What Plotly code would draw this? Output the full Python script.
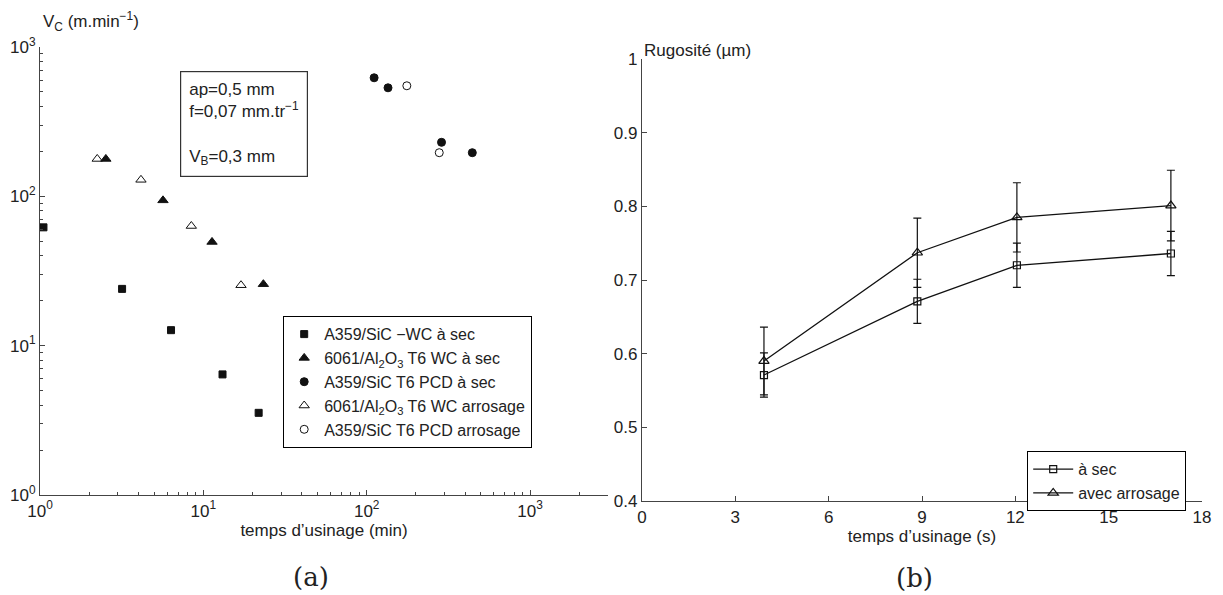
import plotly.graph_objects as go

# ---------- Data (a) ----------
sq_x = [1.05, 3.18, 6.34, 13.1, 21.8]
sq_y = [62, 24, 12.7, 6.42, 3.55]
tri_x = [2.53, 5.66, 11.3, 23.3]
tri_y = [178, 94, 49.5, 25.8]
circ_x = [111, 135, 287, 443]
circ_y = [622, 533, 230, 196]
otri_x = [2.24, 4.15, 8.44, 17.0]
otri_y = [178, 129, 63.3, 25.4]
ocirc_x = [176, 278]
ocirc_y = [550, 196]
names_a = ["A359/SiC −WC à sec",
           "6061/Al<sub>2</sub>O<sub>3</sub> T6 WC à sec",
           "A359/SiC T6 PCD à sec",
           "6061/Al<sub>2</sub>O<sub>3</sub> T6 WC arrosage",
           "A359/SiC T6 PCD arrosage"]

# ---------- Data (b) ----------
t_s = [3.92, 8.85, 12.05, 17.0]
sec_y = [0.571, 0.671, 0.720, 0.736]
sec_err = [0.030, 0.030, 0.030, 0.030]
arr_y = [0.590, 0.737, 0.785, 0.801]
arr_err = [0.046, 0.047, 0.047, 0.048]
names_b = ["à sec", "avec arrosage"]

OFF = 8  # page body margin
W, H = 1223 - OFF, 595 - OFF
FONT = "Liberation Sans, Arial, sans-serif"
SERIF = "DejaVu Serif, Liberation Serif, serif"
BLK = "#111111"
AX = "#444444"
TXT = "#222222"

fig = go.Figure()

def add_pts(x, y, sym, size, name):
    fig.add_trace(go.Scatter(
        x=x, y=y, mode="markers", name=name, xaxis="x", yaxis="y",
        marker=dict(symbol=sym, size=size, color=BLK, line=dict(color=BLK, width=1)),
        legend="legend"))

add_pts(sq_x, sq_y, "square", 7, names_a[0])
add_pts(tri_x, tri_y, "triangle-up", 9, names_a[1])
add_pts(circ_x, circ_y, "circle", 8, names_a[2])
add_pts(otri_x, otri_y, "triangle-up-open", 9, names_a[3])
add_pts(ocirc_x, ocirc_y, "circle-open", 8, names_a[4])

fig.add_trace(go.Scatter(
    x=t_s, y=sec_y, mode="lines+markers", name=names_b[0], xaxis="x2", yaxis="y2",
    line=dict(color=BLK, width=1.3),
    marker=dict(symbol="square-open", size=7, color=BLK, line=dict(width=1.2)),
    error_y=dict(type="data", array=sec_err, color=BLK, thickness=1.2, width=4),
    legend="legend2"))
fig.add_trace(go.Scatter(
    x=t_s, y=arr_y, mode="lines+markers", name=names_b[1], xaxis="x2", yaxis="y2",
    line=dict(color=BLK, width=1.3),
    marker=dict(symbol="triangle-up-open", size=9, color=BLK, line=dict(width=1.2)),
    error_y=dict(type="data", array=arr_err, color=BLK, thickness=1.2, width=4),
    legend="legend2"))

minor_vals = [m * 10 ** d for d in range(0, 4) for m in range(2, 10)]
tickfont = dict(family=FONT, size=17, color=TXT)

def px_x(p):
    return (p - OFF) / W

def px_y(p):
    return 1 - (p - OFF) / H

common = dict(showgrid=False, zeroline=False, showline=True, linecolor=AX, linewidth=1.2,
              ticks="inside", ticklen=5, tickcolor=AX, tickfont=tickfont, mirror=False,
              automargin=False)

fig.update_layout(
    template="none",
    width=W, height=H, margin=dict(l=0, r=0, t=0, b=0, pad=0),
    paper_bgcolor="white", plot_bgcolor="white",
    font=dict(family=FONT, color=TXT, size=17),
    xaxis=dict(type="log", range=[0, 3.477], domain=[px_x(40), px_x(608)], anchor="y",
               tickvals=[1, 10, 100, 1000],
               ticktext=["10<sup>0</sup>", "10<sup>1</sup>", "10<sup>2</sup>", "10<sup>3</sup>"],
               minor=dict(tickvals=minor_vals, ticks="inside", ticklen=3, tickcolor=AX, showgrid=False),
               title=dict(text="temps d’usinage (min)", font=dict(family=FONT, size=17, color=TXT),
                          standoff=4),
               **common),
    yaxis=dict(type="log", range=[0, 3], domain=[px_y(495), px_y(47)], anchor="x",
               tickvals=[1, 10, 100, 1000],
               ticktext=["10<sup>0</sup>", "10<sup>1</sup>", "10<sup>2</sup>", "10<sup>3</sup>"],
               minor=dict(tickvals=minor_vals, ticks="inside", ticklen=3, tickcolor=AX, showgrid=False),
               **common),
    xaxis2=dict(range=[0, 18], domain=[px_x(642), px_x(1202)], anchor="y2",
                tickvals=[0, 3, 6, 9, 12, 15, 18],
                title=dict(text="temps d’usinage (s)", font=dict(family=FONT, size=17, color=TXT),
                           standoff=4),
                **common),
    yaxis2=dict(range=[0.4, 1.0], domain=[px_y(501), px_y(59)], anchor="x2",
                tickvals=[0.4, 0.5, 0.6, 0.7, 0.8, 0.9, 1.0],
                ticktext=["0.4", "0.5", "0.6", "0.7", "0.8", "0.9", "1"],
                **common),
    legend=dict(x=px_x(283), y=px_y(316), xanchor="left", yanchor="top",
                bordercolor="black", borderwidth=1.2, bgcolor="white",
                font=dict(family=FONT, size=16, color=TXT), tracegroupgap=0,
                itemwidth=30),
    legend2=dict(x=px_x(1027), y=px_y(451), xanchor="left", yanchor="top",
                 bordercolor="black", borderwidth=1.2, bgcolor="white",
                 font=dict(family=FONT, size=16, color=TXT), tracegroupgap=0,
                 itemwidth=40),
    showlegend=True,
)

ann = [
    dict(text="V<sub>C</sub> (m.min<sup>−1</sup>)", x=px_x(41), y=px_y(21), xanchor="left",
         yanchor="middle", font=dict(family=FONT, size=17, color=TXT)),
    dict(text="Rugosité (µm)", x=px_x(642), y=px_y(50), xanchor="left",
         yanchor="middle", font=dict(family=FONT, size=17, color=TXT)),
    dict(text="ap=0,5 mm<br>f=0,07 mm.tr<sup>−1</sup><br> <br>V<sub>B</sub>=0,3 mm",
         x=px_x(180), y=px_y(71), xanchor="left", yanchor="top", align="left",
         bordercolor="#333", borderwidth=1.2, borderpad=8, bgcolor="white",
         font=dict(family=FONT, size=17, color=TXT)),
    dict(text="(a)", x=px_x(311), y=px_y(577), xanchor="center", yanchor="middle",
         font=dict(family=SERIF, size=26, color=TXT)),
    dict(text="(b)", x=px_x(914), y=px_y(578), xanchor="center", yanchor="middle",
         font=dict(family=SERIF, size=26, color=TXT)),
]
for a in ann:
    a.update(xref="paper", yref="paper", showarrow=False)
fig.update_layout(annotations=ann)

fig.write_html("out.html")
